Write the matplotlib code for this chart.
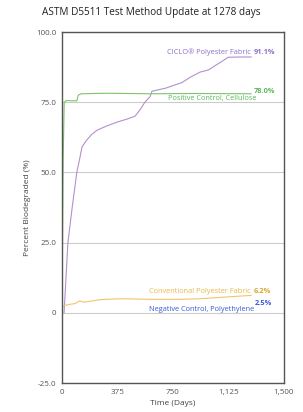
import matplotlib.pyplot as plt
from matplotlib.ticker import FuncFormatter

plt.rcParams['font.family'] = ['Open Sans', 'DejaVu Sans']

# CICLO polyester fabric
ciclo_days = [14, 40, 70, 100, 120, 135, 160, 175, 200, 236, 300, 378, 440, 493, 530, 560,
              595, 608, 700, 811, 870, 932, 990, 1034, 1080, 1122, 1200, 1278]
ciclo_vals = [0, 25, 38, 50, 55, 59, 61, 62, 63.5, 65, 66.5, 68, 69, 70, 72.5, 75,
              77, 78.9, 80, 82, 84, 85.7, 86.5, 88, 89.5, 91, 91.1, 91.1]

# positive control, cellulose
cell_days = [0, 8, 15, 30, 60, 100, 110, 130, 300, 600, 900, 1278]
cell_vals = [0, 55, 75, 75.6, 75.5, 75.5, 77.5, 78, 78.2, 78.0, 78.1, 78.0]

# conventional polyester fabric
conv_days = [0, 10, 50, 90, 120, 130, 150, 200, 245, 300, 400, 600, 800, 932, 1100, 1278]
conv_vals = [1.5, 2.5, 3.0, 3.3, 4.3, 4.0, 3.8, 4.2, 4.6, 4.8, 5.0, 4.8, 4.8, 5.0, 5.6, 6.2]

neg_final = 2.5

series_labels = ["CICLO® Polyester Fabric", "Positive Control, Cellulose",
                 "Conventional Polyester Fabric", "Negative Control, Polyethylene"]

x_ticks = [0, 375, 750, 1125, 1500]
y_ticks = [-25, 0, 25, 50, 75, 100]

fig = plt.figure(figsize=(3.03, 4.12), dpi=100)
ax = fig.add_axes([62 / 303, 1 - 383 / 412, 222 / 303, 351 / 412])

ax.plot(ciclo_days, ciclo_vals, color='#b48fd0', lw=0.8)
ax.plot(cell_days, cell_vals, color='#7cc46c', lw=0.8)
ax.plot(conv_days, conv_vals, color='#f3c46a', lw=0.8)

ax.set_xlim(0, 1500)
ax.set_ylim(-25, 100)
ax.set_xticks(x_ticks)
ax.set_yticks(y_ticks)
ax.xaxis.set_major_formatter(FuncFormatter(lambda v, p: f"{int(v):,}"))
ax.yaxis.set_major_formatter(FuncFormatter(lambda v, p: "0" if v == 0 else f"{v:.1f}"))
ax.tick_params(length=0, labelsize=5.8, colors='#555555', pad=4)
ax.grid(axis='y', color='#cccccc', lw=0.8)
ax.set_axisbelow(True)
for s in ax.spines.values():
    s.set_color('#555555')
    s.set_linewidth(1.0)

ax.set_xlabel("Time (Days)", fontsize=6, color='#444444', labelpad=3)
ax.set_ylabel("Percent Biodegraded (%)", fontsize=6, color='#444444', labelpad=4)
fig.text(0.5, 1 - 13 / 412, "ASTM D5511 Test Method Update at 1278 days",
         ha='center', va='center', fontsize=7.2, color='#222222')

# end labels
lx = 1278
ax.text(lx - 5, ciclo_vals[-1] + 1.6, series_labels[0], color='#8c70c8', fontsize=5.3, ha='right', va='center')
ax.text(lx + 20, ciclo_vals[-1] + 1.6, f"{ciclo_vals[-1]:.1f}%", color='#8c70c8', fontsize=5.3,
        ha='left', va='center', fontweight='bold')
ax.text(lx + 35, cell_vals[-1] - 1.7, series_labels[1], color='#5cb85c', fontsize=5.3, ha='right', va='center')
ax.text(lx + 20, cell_vals[-1] + 0.8, f"{cell_vals[-1]:.1f}%", color='#5cb85c', fontsize=5.3,
        ha='left', va='center', fontweight='bold')
ax.text(lx - 5, conv_vals[-1] + 1.3, series_labels[2], color='#e8b84a', fontsize=5.3, ha='right', va='center')
ax.text(lx + 20, conv_vals[-1] + 1.3, f"{conv_vals[-1]:.1f}%", color='#d8a830', fontsize=5.3,
        ha='left', va='center', fontweight='bold')
ax.text(lx + 20, neg_final - 1.2, series_labels[3], color='#3a5ad8', fontsize=5.3, ha='right', va='center')
ax.text(lx + 25, neg_final + 0.7, f"{neg_final:.1f}%", color='#3a5ad8', fontsize=5.3,
        ha='left', va='center', fontweight='bold')

fig.savefig("out.png", dpi=100)
